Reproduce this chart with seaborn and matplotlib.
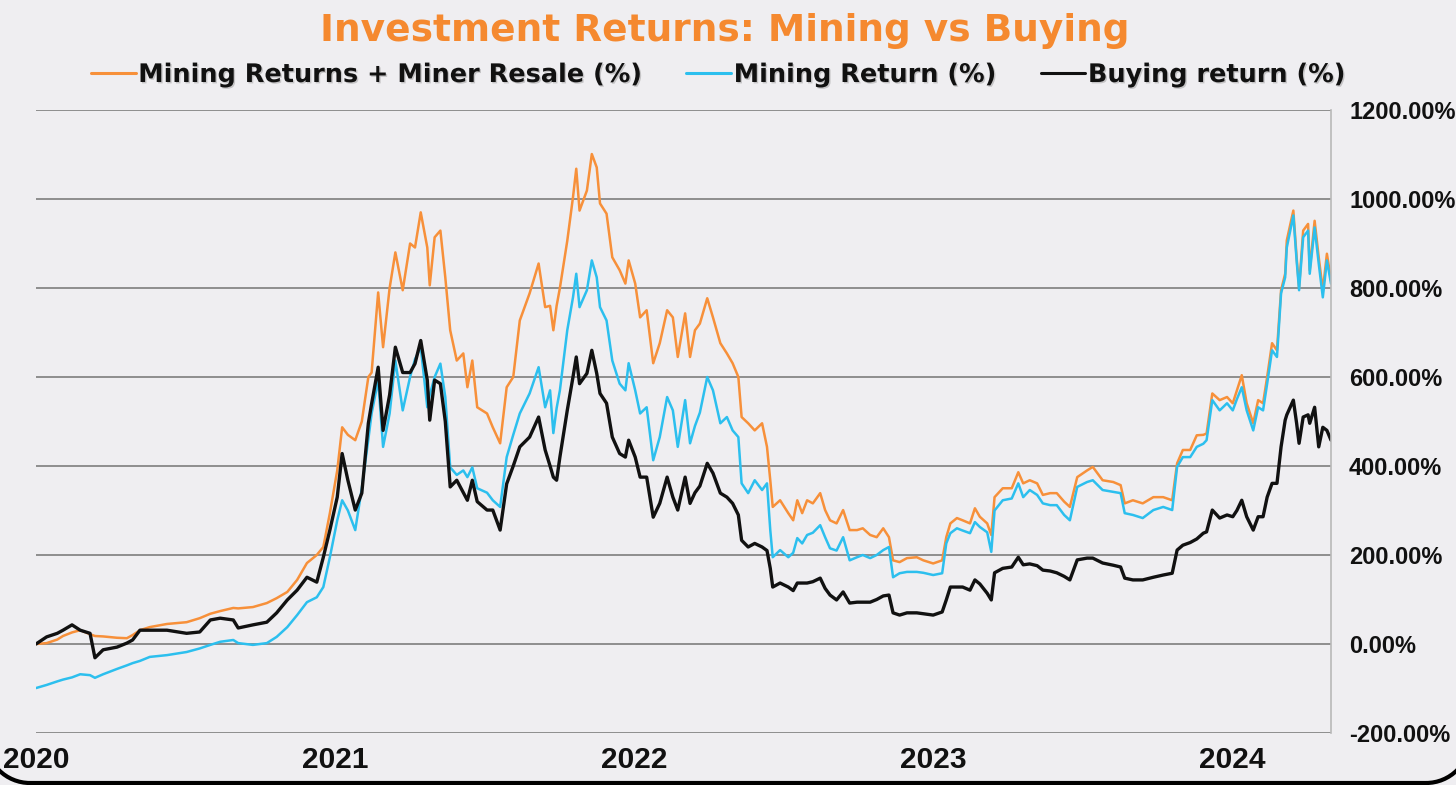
import pandas as pd
import matplotlib.pyplot as plt
import matplotlib.dates as mdates
import matplotlib.patheffects as pe
import seaborn as sns
from matplotlib.lines import Line2D
from matplotlib.patches import Arc
from matplotlib.ticker import FuncFormatter

# values (returns in %)
dates = [
    "2020-01-01", "2020-01-14", "2020-01-27", "2020-02-03", "2020-02-14", "2020-02-24", "2020-03-07", "2020-03-13",
    "2020-03-23", "2020-04-09", "2020-04-21", "2020-04-28", "2020-05-07", "2020-05-19", "2020-06-09", "2020-07-03",
    "2020-07-19", "2020-08-01", "2020-08-13", "2020-08-29", "2020-09-04", "2020-09-22", "2020-10-09", "2020-10-21",
    "2020-11-03", "2020-11-15", "2020-11-27", "2020-12-09", "2020-12-17", "2020-12-25", "2021-01-03", "2021-01-09",
    "2021-01-16", "2021-01-25", "2021-02-02", "2021-02-10", "2021-02-14", "2021-02-22", "2021-02-28", "2021-03-08",
    "2021-03-15", "2021-03-24", "2021-04-02", "2021-04-08", "2021-04-15", "2021-04-23", "2021-04-26", "2021-05-02",
    "2021-05-09", "2021-05-15", "2021-05-21", "2021-05-29", "2021-06-06", "2021-06-11", "2021-06-17", "2021-06-23",
    "2021-07-05", "2021-07-12", "2021-07-21", "2021-07-29", "2021-08-06", "2021-08-14", "2021-08-26", "2021-09-06",
    "2021-09-14", "2021-09-20", "2021-09-24", "2021-09-28", "2021-10-02", "2021-10-11", "2021-10-18", "2021-10-22",
    "2021-10-26", "2021-11-04", "2021-11-10", "2021-11-16", "2021-11-20", "2021-11-28", "2021-12-05", "2021-12-14",
    "2021-12-21", "2021-12-25", "2022-01-02", "2022-01-08", "2022-01-16", "2022-01-24", "2022-02-01", "2022-02-10",
    "2022-02-17", "2022-02-23", "2022-03-04", "2022-03-10", "2022-03-16", "2022-03-22", "2022-03-31", "2022-04-07",
    "2022-04-16", "2022-04-24", "2022-05-01", "2022-05-08", "2022-05-12", "2022-05-20", "2022-05-28", "2022-06-06",
    "2022-06-12", "2022-06-16", "2022-06-19", "2022-06-28", "2022-07-08", "2022-07-14", "2022-07-19", "2022-07-25",
    "2022-07-31", "2022-08-07", "2022-08-16", "2022-08-22", "2022-08-28", "2022-09-05", "2022-09-13", "2022-09-21",
    "2022-09-30", "2022-10-07", "2022-10-16", "2022-10-24", "2022-11-01", "2022-11-08", "2022-11-13", "2022-11-21",
    "2022-11-30", "2022-12-12", "2022-12-20", "2023-01-01", "2023-01-12", "2023-01-17", "2023-01-22", "2023-01-30",
    "2023-02-06", "2023-02-15", "2023-02-21", "2023-02-27", "2023-03-08", "2023-03-13", "2023-03-17", "2023-03-27",
    "2023-04-07", "2023-04-15", "2023-04-21", "2023-04-29", "2023-05-08", "2023-05-15", "2023-05-24", "2023-06-01",
    "2023-06-10", "2023-06-17", "2023-06-26", "2023-07-08", "2023-07-15", "2023-07-27", "2023-08-09", "2023-08-18",
    "2023-08-23", "2023-09-02", "2023-09-14", "2023-09-27", "2023-10-09", "2023-10-20", "2023-10-26", "2023-11-02",
    "2023-11-11", "2023-11-19", "2023-11-27", "2023-12-01", "2023-12-08", "2023-12-17", "2023-12-26", "2024-01-02",
    "2024-01-07", "2024-01-13", "2024-01-19", "2024-01-27", "2024-02-02", "2024-02-08", "2024-02-13", "2024-02-19",
    "2024-02-25", "2024-03-01", "2024-03-06", "2024-03-08", "2024-03-16", "2024-03-20", "2024-03-23", "2024-03-28",
    "2024-04-03", "2024-04-05", "2024-04-11", "2024-04-16", "2024-04-21", "2024-04-26", "2024-05-01",
]

mining_resale = [
    0, 2, 10, 18, 26, 31, 22, 18, 17, 14, 13, 20, 31, 38, 45, 49,
    58, 68, 74, 81, 80, 83, 92, 103, 117, 144, 182, 200, 218, 294, 390, 487,
    470, 458, 500, 600, 610, 790, 667, 800, 880, 795, 900, 891, 970, 891, 806, 914,
    929, 824, 705, 637, 653, 577, 637, 532, 518, 487, 451, 577, 600, 727, 788, 855,
    757, 760, 705, 760, 800, 906, 1004, 1068, 974, 1019, 1101, 1071, 990, 967, 869, 840,
    810, 862, 810, 734, 750, 631, 676, 750, 734, 645, 743, 645, 705, 720, 777, 734,
    676, 653, 631, 600, 510, 496, 480, 496, 443, 368, 308, 323, 294, 278, 323, 294,
    323, 316, 339, 301, 278, 271, 301, 256, 256, 260, 245, 240, 260, 240, 188, 184,
    193, 195, 188, 181, 188, 240, 271, 283, 278, 271, 305, 286, 271, 245, 330, 350,
    350, 386, 361, 368, 361, 335, 339, 339, 320, 308, 375, 390, 398, 368, 364, 357,
    316, 323, 316, 330, 330, 323, 406, 436, 436, 469, 470, 473, 563, 548, 555, 541,
    570, 604, 541, 496, 548, 541, 600, 676, 660, 795, 832, 907, 974, 869, 801, 929,
    944, 840, 951, 869, 795, 877, 817,
]

mining = [
    -99, -92, -84, -80, -75, -68, -70, -76, -68, -56, -48, -43, -38, -29, -25, -18,
    -10, -2, 5, 9, 2, -2, 2, 16, 38, 65, 94, 105, 128, 195, 278, 323,
    300, 256, 350, 460, 518, 593, 443, 518, 637, 525, 600, 640, 667, 532, 560, 600,
    630, 555, 397, 380, 390, 375, 397, 350, 340, 323, 308, 420, 470, 518, 563, 622,
    532, 570, 474, 530, 570, 705, 779, 832, 757, 795, 862, 824, 757, 727, 637, 585,
    570, 631, 570, 518, 532, 413, 465, 555, 525, 443, 548, 451, 490, 520, 600, 570,
    496, 510, 480, 465, 361, 339, 368, 346, 361, 256, 195, 211, 195, 205, 238, 226,
    245, 250, 267, 240, 215, 210, 240, 188, 195, 200, 193, 200, 211, 218, 150, 159,
    162, 162, 160, 155, 159, 226, 249, 260, 255, 249, 274, 263, 251, 207, 300, 323,
    327, 361, 330, 346, 335, 316, 312, 312, 290, 278, 353, 364, 368, 346, 342, 339,
    294, 290, 283, 301, 308, 301, 398, 420, 420, 443, 450, 458, 548, 525, 541, 525,
    550, 577, 525, 480, 532, 525, 585, 660, 645, 788, 824, 891, 963, 862, 795, 914,
    929, 832, 936, 855, 779, 862, 810,
]

buying = [
    0, 16, 24, 31, 43, 31, 24, -31, -13, -7, 2, 9, 31, 31, 31, 24,
    27, 54, 58, 54, 36, 43, 49, 70, 99, 121, 150, 139, 195, 256, 330, 428,
    368, 301, 339, 496, 540, 622, 480, 560, 667, 610, 610, 630, 682, 593, 503, 593,
    585, 500, 353, 368, 340, 323, 368, 320, 301, 301, 256, 360, 400, 443, 465, 510,
    436, 400, 375, 368, 420, 525, 600, 645, 585, 608, 660, 608, 563, 541, 465, 428,
    420, 458, 420, 375, 375, 285, 316, 375, 330, 301, 375, 316, 340, 355, 406, 384,
    339, 330, 316, 290, 233, 218, 226, 218, 210, 170, 128, 137, 128, 120, 137, 137,
    137, 140, 148, 125, 110, 99, 117, 92, 94, 94, 94, 100, 108, 110, 70, 65,
    70, 70, 68, 65, 72, 99, 128, 128, 128, 121, 144, 135, 114, 99, 160, 170,
    173, 195, 178, 180, 176, 166, 164, 160, 152, 144, 189, 193, 193, 182, 177, 173,
    148, 144, 144, 150, 155, 159, 211, 222, 228, 236, 249, 252, 301, 283, 290, 286,
    300, 323, 286, 256, 286, 286, 330, 361, 361, 443, 503, 515, 548, 496, 451, 510,
    515, 496, 532, 443, 487, 480, 458,
]

series_names = ["Mining Returns + Miner Resale (%)", "Mining Return (%)", "Buying return (%)"]
colors = ["#f7903a", "#2cbfee", "#111111"]
line_widths = [1.8, 1.8, 2.4]
year_ticks = ["2020-01-01", "2021-01-01", "2022-01-01", "2023-01-01", "2024-01-01"]
title = "Investment Returns: Mining vs Buying"

df = pd.DataFrame({
    "date": pd.to_datetime(dates),
    series_names[0]: mining_resale,
    series_names[1]: mining,
    series_names[2]: buying,
})

sns.set_theme(style="white")
plt.rcParams["font.family"] = ["Liberation Sans", "DejaVu Sans"]

W, H = 1456, 785
bg = "#efeef1"
fig = plt.figure(figsize=(W / 100, H / 100), dpi=100, facecolor=bg)
ax = fig.add_axes([36 / W, 1 - 733 / H, 1295 / W, 623 / H])
ax.set_facecolor(bg)

for name, c, lw in zip(series_names, colors, line_widths):
    sns.lineplot(data=df, x="date", y=name, color=c, linewidth=lw, ax=ax, legend=False)

ax.set_ylim(-200, 1200)
ax.set_yticks(range(-200, 1201, 200))
ax.yaxis.set_major_formatter(FuncFormatter(lambda v, p: f"{v:.2f}%"))
ax.yaxis.tick_right()
ax.set_xlim(pd.Timestamp("2020-01-01"), pd.Timestamp("2024-05-01"))
ax.set_xticks(pd.to_datetime(year_ticks))
ax.xaxis.set_major_formatter(mdates.DateFormatter("%Y"))
ax.set_xlabel("")
ax.set_ylabel("")

ax.grid(axis="y", color="#8e8e8e", linewidth=1.4)
ax.grid(axis="x", visible=False)
ax.set_axisbelow(True)
for side in ["left", "top", "bottom"]:
    ax.spines[side].set_visible(False)
ax.spines["right"].set_color("#b8b8b8")
ax.spines["right"].set_linewidth(1.2)

ax.tick_params(axis="y", length=0, pad=13, labelsize=17, labelcolor="#111111")
ax.tick_params(axis="x", length=0, pad=9, labelsize=21.5, labelcolor="#111111")
for lab in ax.get_xticklabels() + ax.get_yticklabels():
    lab.set_fontweight("bold")

fig.text(725 / W, 1 - 31 / H, title, ha="center", va="center",
         color="#f5892f", fontsize=27, fontweight="bold", family="DejaVu Sans")

shadow = [pe.withSimplePatchShadow(offset=(1, -1), shadow_rgbFace="#777777", alpha=0.35)]
handles = [Line2D([], [], color=c, linewidth=2.2) for c in colors]
leg = fig.legend(handles, series_names, loc="center", bbox_to_anchor=(718 / W, 1 - 75 / H),
                 ncol=3, frameon=False, prop={"weight": "bold", "size": 18.4, "family": "DejaVu Sans"},
                 handlelength=1.75, handletextpad=0.1, columnspacing=1.75)
for t in leg.get_texts():
    t.set_color("#111111")
    t.set_path_effects(shadow)

# dark rounded edge of the screenshot frame along the bottom
r = 44
fig.add_artist(Line2D([30 / W, (W - 30) / W], [2 / H, 2 / H], color="black", linewidth=3,
                      transform=fig.transFigure))
fig.add_artist(Arc((30 / W, (2 + r) / H), 2 * r / W, 2 * r / H, theta1=180, theta2=270,
                   color="black", linewidth=3, transform=fig.transFigure))
fig.add_artist(Arc(((W - 30) / W, (2 + r) / H), 2 * r / W, 2 * r / H, theta1=270, theta2=360,
                   color="black", linewidth=3, transform=fig.transFigure))

fig.savefig("out.png", dpi=100, facecolor=bg)
